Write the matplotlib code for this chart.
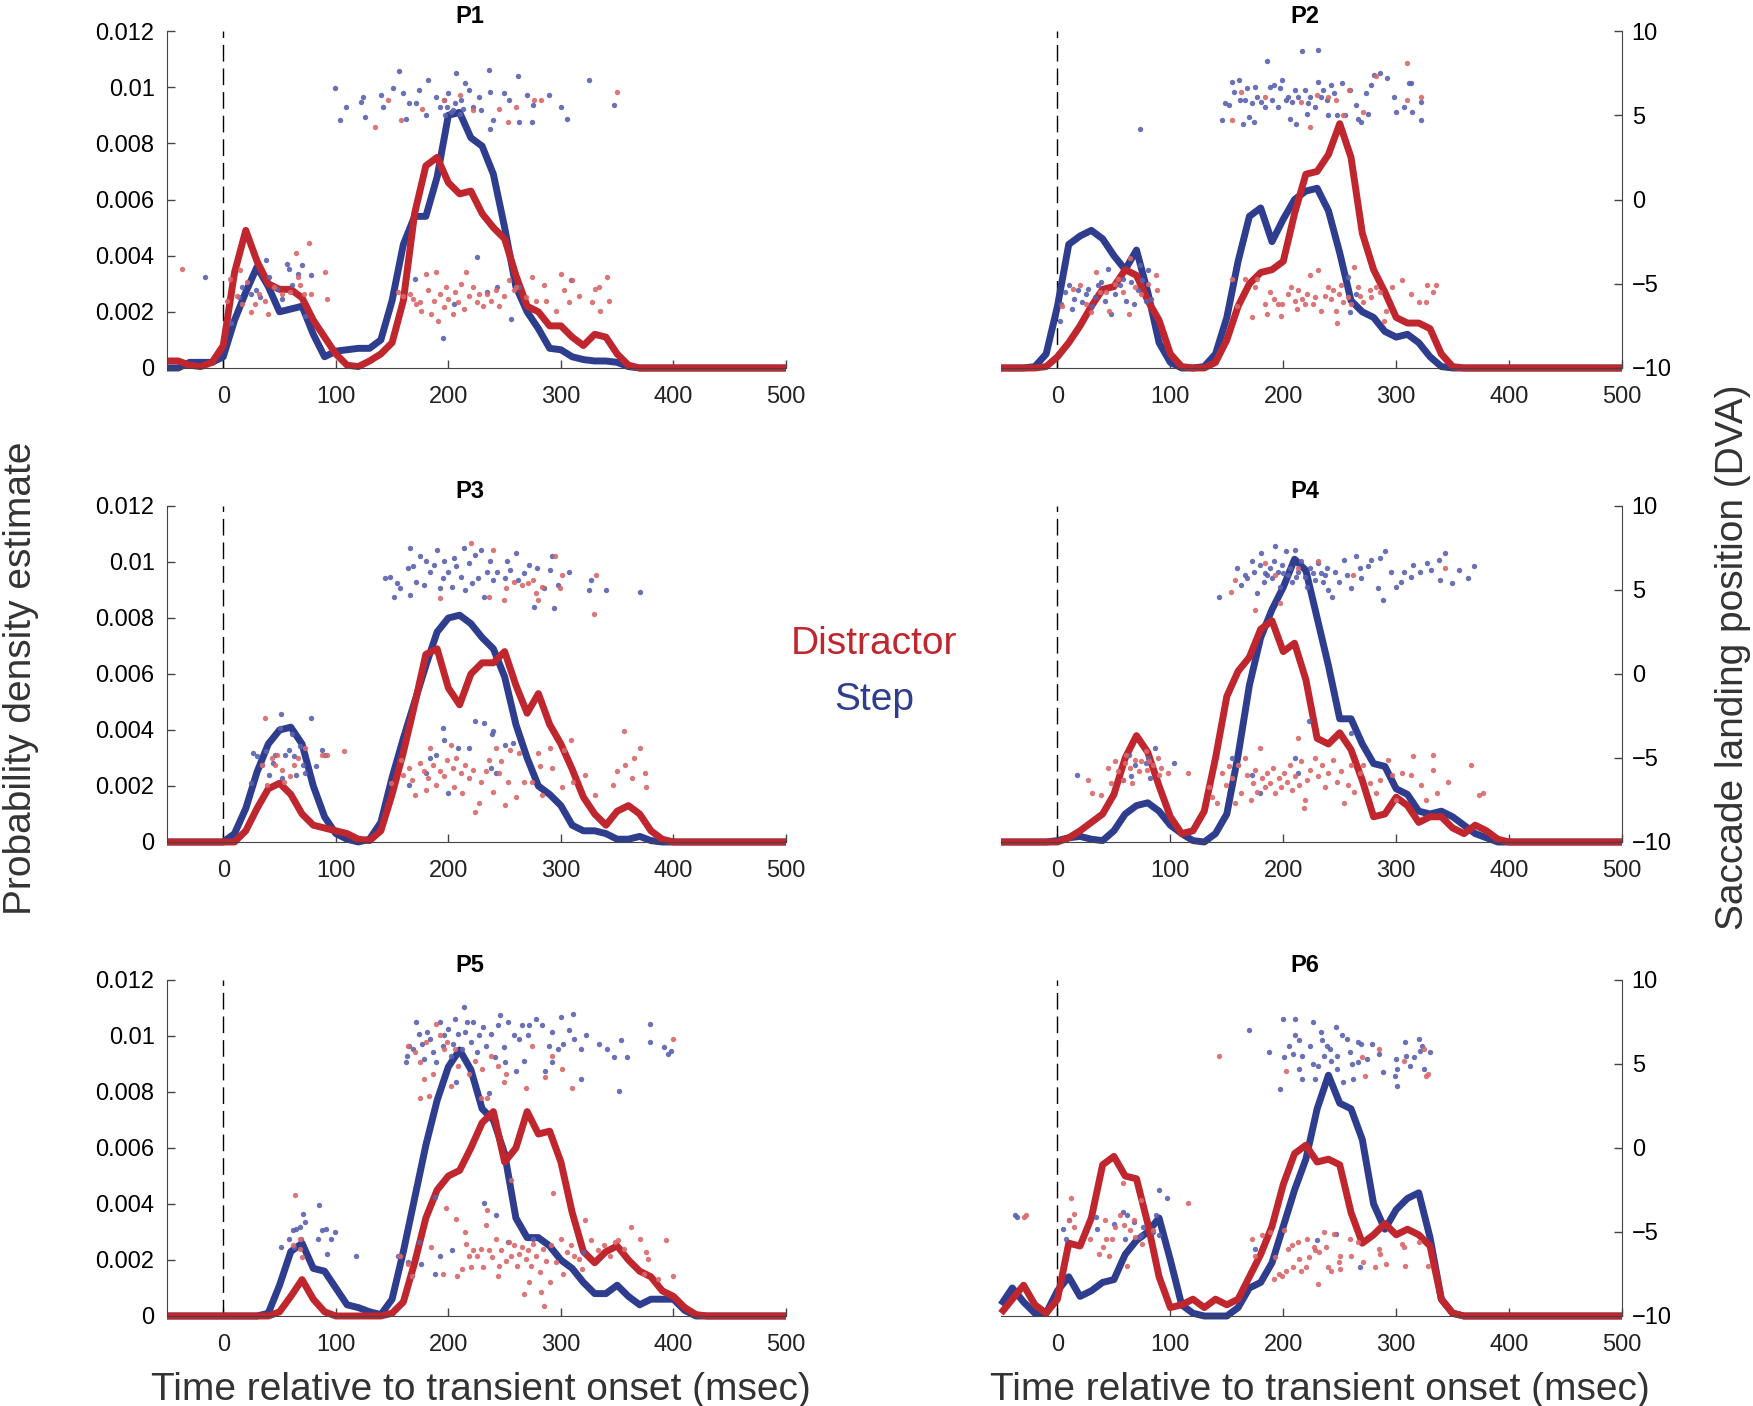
import numpy as np
import matplotlib
matplotlib.use("Agg")
import matplotlib.pyplot as plt

plt.rcParams["font.family"] = ["Liberation Sans", "DejaVu Sans"]

# time grid of the density estimates (msec)
t = np.arange(-50, 501, 10)

# density estimates, units of 1e-3, read every 10 ms from -50 to 500
p1_step = [0, 0, 0.2, 0.2, 0.2, 0.4, 1.7, 2.7, 3.6, 2.9, 2.0, 2.1, 2.2, 1.2, 0.4, 0.6, 0.65, 0.7, 0.7, 1.0,
           2.4, 4.4, 5.4, 5.4, 6.8, 9.0, 9.1, 8.2, 7.9, 6.9, 5.0, 2.9, 2.0, 1.4, 0.7, 0.65, 0.4, 0.3, 0.25, 0.25,
           0.2, 0.05] + [0] * 14
p1_dist = [0.25, 0.25, 0.1, 0.05, 0.2, 0.8, 3.4, 4.9, 3.8, 3.0, 2.8, 2.8, 2.5, 1.7, 1.1, 0.5, 0.1, 0.05, 0.25, 0.5,
           0.9, 2.4, 5.5, 7.2, 7.5, 6.6, 6.2, 6.3, 5.5, 5.0, 4.6, 3.3, 2.2, 2.0, 1.5, 1.5, 1.1, 0.8, 1.2, 1.1,
           0.5, 0.1] + [0] * 14
p2_step = [0, 0, 0, 0.05, 0.5, 2.2, 4.4, 4.7, 4.9, 4.6, 4.0, 3.5, 4.2, 2.7, 0.9, 0.2, 0, 0, 0.05, 0.5,
           1.8, 3.8, 5.4, 5.7, 4.5, 5.3, 6.0, 6.3, 6.4, 5.6, 4.1, 2.4, 2.0, 1.8, 1.3, 1.1, 1.2, 0.9, 0.4, 0.05] + [0] * 16
p2_dist = [0, 0, 0, 0, 0.05, 0.4, 0.9, 1.5, 2.2, 2.8, 2.9, 3.5, 3.3, 2.4, 1.7, 0.5, 0.05, 0, 0, 0.2,
           1.0, 2.2, 3.0, 3.4, 3.5, 3.8, 5.5, 6.9, 7.0, 7.6, 8.7, 7.5, 4.8, 3.5, 2.7, 1.8, 1.6, 1.6, 1.4, 0.5,
           0.05] + [0] * 15
p3_step = [0, 0, 0, 0, 0, 0, 0.3, 1.2, 2.5, 3.5, 4.0, 4.1, 3.5, 2.0, 0.9, 0.3, 0.1, 0, 0.1, 0.7,
           2.3, 3.7, 5.0, 6.3, 7.5, 8.0, 8.1, 7.8, 7.3, 6.9, 5.9, 4.2, 3.0, 2.0, 1.7, 1.3, 0.6, 0.4, 0.4, 0.3,
           0.1, 0.1, 0.2, 0.05] + [0] * 12
p3_dist = [0, 0, 0, 0, 0, 0, 0, 0.4, 1.2, 1.9, 2.1, 1.7, 1.0, 0.6, 0.5, 0.4, 0.3, 0.1, 0.05, 0.4,
           1.7, 3.2, 4.9, 6.7, 6.9, 5.5, 4.9, 6.0, 6.4, 6.4, 6.8, 5.6, 4.6, 5.3, 4.2, 3.5, 2.6, 1.6, 1.0, 0.6,
           1.1, 1.3, 1.0, 0.4, 0.1] + [0] * 11
p4_step = [0, 0, 0, 0, 0, 0.05, 0.15, 0.2, 0.1, 0.05, 0.4, 1.0, 1.3, 1.4, 1.1, 0.6, 0.3, 0.05, 0, 0.3,
           1.0, 3.1, 5.6, 7.3, 8.3, 9.1, 10.1, 9.7, 8.0, 6.3, 4.4, 4.4, 3.5, 2.8, 2.7, 1.9, 1.7, 1.1, 1.0, 1.1,
           0.9, 0.6, 0.3, 0.15, 0] + [0] * 11
p4_dist = [0, 0, 0, 0, 0, 0, 0.15, 0.4, 0.7, 1.0, 1.7, 3.0, 3.8, 3.2, 2.0, 0.9, 0.3, 0.4, 1.1, 3.0,
           5.2, 6.1, 6.6, 7.6, 7.9, 6.8, 7.1, 5.8, 3.7, 3.5, 3.9, 3.3, 2.2, 0.9, 1.0, 1.6, 1.3, 0.7, 0.9, 0.9,
           0.5, 0.3, 0.6, 0.4, 0.1] + [0] * 11
p5_step = [0, 0, 0, 0, 0, 0, 0, 0, 0, 0.1, 1.1, 2.3, 2.6, 1.7, 1.6, 1.0, 0.4, 0.3, 0.15, 0.05,
           0.6, 2.3, 4.2, 6.1, 7.7, 8.9, 9.5, 8.8, 7.4, 7.0, 5.8, 3.5, 2.8, 2.8, 2.5, 2.0, 1.7, 1.2, 0.8, 0.8,
           1.1, 0.7, 0.4, 0.6, 0.6, 0.6, 0.2, 0] + [0] * 8
p5_dist = [0, 0, 0, 0, 0, 0, 0, 0, 0, 0, 0.15, 0.7, 1.3, 0.6, 0.15, 0, 0, 0, 0, 0,
           0.1, 0.5, 1.9, 3.5, 4.5, 5.0, 5.2, 6.0, 6.9, 7.3, 5.5, 6.0, 7.3, 6.5, 6.6, 5.5, 3.7, 2.3, 1.9, 2.3,
           2.5, 2.0, 1.6, 1.4, 0.9, 0.7, 0.3, 0.05] + [0] * 8
p6_step = [0.4, 1.0, 0.5, 0.1, 0.1, 0.9, 1.4, 0.7, 0.9, 1.2, 1.3, 2.2, 2.7, 3.0, 3.5, 2.0, 0.4, 0.1, 0, 0,
           0, 0.3, 1.0, 1.2, 1.9, 3.2, 4.5, 5.6, 7.4, 8.6, 7.6, 7.4, 6.3, 4.0, 3.1, 3.8, 4.2, 4.4, 2.8, 0.6,
           0.1] + [0] * 15
p6_dist = [0.1, 0.6, 1.1, 0.4, 0.1, 0.6, 2.6, 2.5, 3.5, 5.4, 5.7, 5.0, 4.9, 3.3, 1.4, 0.3, 0.4, 0.6, 0.3, 0.6,
           0.4, 0.6, 1.4, 2.2, 3.2, 4.7, 5.8, 6.1, 5.5, 5.6, 5.4, 3.7, 2.6, 2.9, 3.3, 2.9, 3.1, 2.9, 2.5, 0.6,
           0.1] + [0] * 15

# saccade landing positions: (time msec, position DVA)
p1_step_pts = [(99, 6.6), (104, 4.7), (109, 5.5), (122, 5.8), (124, 6.1), (126, 4.9), (140, 6.2), (142, 5.5),
               (151, 6.6), (156, 7.6), (160, 6.3), (162, 4.8), (165, 5.7), (171, 5.7), (174, 6.5), (182, 7.1),
               (180, 5.0), (189, 6.1), (193, 5.5), (196, 5.9), (200, 6.3), (204, 5.3), (207, 7.5), (211, 5.9),
               (215, 6.9), (218, 6.5), (222, 5.5), (227, 6.1), (229, 5.3), (236, 7.7), (237, 6.4), (240, 4.7),
               (237, 4.2), (249, 6.3), (254, 5.9), (262, 7.3), (263, 4.6), (270, 6.2), (274, 4.6), (275, 5.6),
               (289, 6.2), (300, 5.5), (305, 4.8), (325, 7.1), (347, 5.6), (197, 5.0), (202, 5.2), (206, 5.7),
               (210, 5.1), (213, 5.4), (199, 5.5),
               (170, -4.7), (195, -8.2), (225, -3.4), (243, -5.2), (256, -7.1), (263, -5.2), (309, -4.8),
               (205, -6.2), (234, -5.5),
               (-16, -4.6), (7, -7.3), (14, -5.8), (17, -5.2), (25, -5.6), (29, -5.4), (33, -5.8), (38, -3.6),
               (41, -4.6), (48, -5.3), (52, -5.9), (57, -3.8), (58, -4.1), (61, -5.1), (66, -4.4), (70, -3.9),
               (73, -6.9), (78, -4.5)]
p1_dist_pts = [(135, 4.3), (146, 5.9), (158, 4.7), (177, 5.4), (196, 5.9), (210, 6.2), (222, 5.3), (245, 5.4),
               (253, 4.6), (260, 5.5), (276, 5.9), (282, 5.9), (350, 6.4),
               (155, -5.5), (160, -5.7), (166, -5.6), (169, -5.9), (171, -6.2), (175, -6.1), (176, -6.6),
               (180, -4.4), (182, -5.4), (185, -6.8), (187, -6.0), (189, -4.3), (191, -7.2), (193, -5.6),
               (196, -6.4), (198, -5.2), (200, -5.9), (204, -6.8), (206, -5.5), (209, -6.1), (211, -5.0),
               (214, -6.5), (216, -4.3), (218, -5.7), (222, -5.2), (225, -6.1), (227, -5.6), (231, -6.3),
               (234, -5.6), (238, -6.0), (242, -5.4), (245, -6.3), (249, -5.7), (254, -4.8), (258, -5.4),
               (260, -5.2), (269, -5.8), (274, -4.6), (278, -6.0), (285, -5.1), (287, -6.0), (296, -6.6),
               (300, -4.4), (303, -5.4), (307, -6.1), (310, -4.8), (316, -5.7), (328, -6.1), (330, -5.3),
               (334, -5.2), (335, -6.6), (341, -4.6), (343, -6.0),
               (-37, -4.1), (3, -6.0), (6, -4.7), (12, -5.7), (15, -4.2), (17, -6.2), (21, -4.9), (25, -6.7),
               (28, -6.2), (32, -5.6), (37, -6.0), (40, -6.8), (45, -5.2), (52, -5.6), (59, -5.5), (65, -3.2),
               (66, -4.6), (68, -5.1), (72, -5.6), (76, -2.6), (78, -5.6), (90, -4.3), (92, -5.9)]

p2_step_pts = [(146, 4.7), (148, 5.7), (152, 5.6), (155, 7.0), (156, 6.4), (161, 7.1), (162, 5.9), (164, 4.5),
               (166, 5.9), (168, 6.6), (170, 4.9), (172, 5.7), (174, 4.6), (175, 6.7), (177, 6.1), (180, 5.8),
               (184, 5.5), (186, 8.2), (188, 6.7), (190, 5.9), (192, 6.8), (195, 5.5), (197, 6.6), (199, 7.1),
               (202, 5.9), (204, 6.1), (206, 4.8), (208, 5.8), (210, 6.5), (211, 4.5), (213, 6.1), (217, 8.8),
               (219, 6.5), (221, 5.1), (222, 5.7), (224, 6.1), (228, 5.5), (231, 8.9), (231, 7.0), (233, 6.1),
               (235, 6.5), (239, 5.9), (240, 5.0), (242, 6.8), (245, 6.3), (248, 5.0), (252, 6.9), (255, 5.0),
               (259, 6.5), (264, 5.6), (266, 4.8), (269, 4.6), (273, 6.3), (275, 5.1), (278, 6.8), (280, 7.4),
               (286, 7.5), (292, 7.2), (298, 6.1), (300, 5.2), (307, 5.5), (311, 6.9), (313, 6.9), (314, 5.2),
               (322, 5.8), (322, 4.7), (73, 4.2),
               (257, -4.6), (259, -6.7), (264, -5.6),
               (2, -7.2), (3, -6.2), (7, -5.5), (10, -5.1), (13, -6.5), (15, -5.9), (18, -5.4), (22, -6.1),
               (25, -5.6), (27, -5.3), (31, -6.3), (33, -5.8), (36, -5.1), (39, -4.9), (42, -6.0), (45, -4.1),
               (47, -6.8), (51, -5.6), (55, -5.1), (58, -4.7), (61, -6.0), (65, -4.9), (68, -6.2), (71, -5.4),
               (73, -3.9), (75, -4.8), (78, -6.0), (80, -4.2), (83, -5.9)]
p2_dist_pts = [(155, 4.7), (163, 6.4), (184, 6.1), (216, 5.8), (224, 4.3), (230, 6.2), (240, 6.1), (247, 5.9),
               (253, 5.0), (258, 6.5), (271, 5.2), (282, 7.3), (310, 8.1), (310, 5.9), (322, 6.1),
               (155, -4.7), (159, -6.3), (166, -4.7), (172, -7.0), (175, -5.2), (177, -4.7), (184, -6.2),
               (186, -6.8), (188, -5.5), (192, -5.9), (195, -6.2), (198, -6.9), (199, -6.2), (204, -5.6),
               (207, -5.2), (210, -6.0), (212, -6.5), (213, -5.4), (217, -5.9), (219, -6.2), (221, -5.6),
               (224, -4.5), (226, -6.2), (228, -5.8), (231, -4.2), (233, -6.6), (237, -5.7), (240, -5.2),
               (242, -5.9), (244, -5.4), (247, -6.6), (248, -7.3), (249, -5.6), (251, -5.1), (253, -6.1),
               (257, -5.8), (260, -6.2), (263, -4.0), (266, -5.2), (268, -5.7), (271, -6.1), (277, -5.4),
               (278, -5.8), (282, -5.2), (286, -5.5), (289, -7.2), (291, -6.6), (296, -5.2), (305, -4.8),
               (313, -5.6), (320, -6.1), (326, -6.1), (327, -5.1), (333, -5.5), (335, -5.1),
               (4, -6.3), (14, -5.3), (20, -5.1), (25, -6.2), (30, -6.7), (34, -4.3), (38, -5.5), (43, -5.5),
               (46, -6.6), (51, -5.0), (54, -4.7), (58, -5.5), (63, -6.8), (64, -3.5), (69, -5.2), (74, -5.6),
               (80, -5.0), (87, -4.5), (88, -5.4)]

p3_step_pts = [(144, 5.7), (148, 5.8), (152, 4.6), (154, 5.4), (157, 5.1), (164, 6.3), (166, 7.5), (166, 4.7),
               (169, 6.4), (171, 5.5), (175, 7.0), (178, 5.3), (180, 6.7), (184, 6.1), (187, 6.5), (190, 7.4),
               (193, 5.1), (195, 5.7), (196, 6.7), (200, 6.1), (203, 5.2), (205, 6.9), (207, 6.4), (211, 5.8),
               (214, 7.5), (215, 5.0), (218, 6.6), (221, 5.4), (224, 7.1), (226, 5.7), (229, 7.4), (232, 4.6),
               (234, 6.1), (237, 6.7), (240, 5.6), (243, 6.1), (250, 5.7), (252, 6.7), (255, 6.2), (260, 7.2),
               (262, 5.6), (267, 6.0), (272, 6.5), (276, 4.0), (279, 6.3), (285, 5.1), (290, 6.2), (292, 7.0),
               (294, 3.9), (297, 5.3), (307, 6.1), (325, 5.0), (327, 5.6), (340, 5.0), (370, 4.9),
               (195, -3.2), (196, -3.9), (224, -2.8), (232, -2.9), (240, -3.4), (239, -3.6), (250, -4.2),
               (257, -4.1), (238, -5.6), (242, -5.9), (184, -5.0), (189, -4.8), (200, -7.1), (165, -6.6),
               (180, -5.9), (209, -4.4), (218, -4.4),
               (25, -6.5), (26, -4.7), (30, -4.9), (34, -5.4), (38, -4.6), (41, -6.0), (44, -5.3), (46, -4.8),
               (50, -3.2), (51, -2.4), (52, -6.2), (55, -4.8), (58, -4.5), (61, -3.6), (63, -4.9), (65, -6.0),
               (68, -4.3), (71, -5.4), (73, -5.9), (78, -2.6), (82, -5.5), (88, -4.5), (90, -4.8)]
p3_dist_pts = [(220, 7.8), (240, 7.4), (193, 4.5), (236, 4.6), (249, 4.4), (251, 5.1), (258, 5.5), (265, 5.3),
               (271, 5.4), (275, 5.6), (278, 4.8), (280, 4.4), (283, 5.2), (295, 7.0), (299, 5.1), (301, 5.9),
               (329, 3.6), (331, 5.9),
               (149, -6.5), (158, -5.1), (160, -6.0), (165, -5.6), (168, -6.3), (170, -7.2), (175, -5.3),
               (178, -5.8), (180, -6.9), (182, -6.2), (184, -4.4), (186, -5.4), (189, -6.6), (193, -5.8),
               (196, -6.1), (199, -5.1), (202, -4.2), (204, -5.6), (205, -6.7), (207, -5.0), (211, -5.9),
               (212, -7.1), (215, -5.4), (218, -6.2), (222, -5.7), (224, -8.2), (227, -7.7), (229, -6.4),
               (233, -5.8), (236, -5.1), (240, -7.0), (242, -4.4), (245, -5.9), (247, -5.2), (250, -7.8),
               (253, -6.4), (255, -4.5), (260, -7.3), (263, -4.7), (267, -6.4), (274, -6.4), (280, -4.7),
               (281, -5.5), (283, -7.2), (290, -4.4), (292, -5.6), (301, -6.7), (303, -4.5), (309, -3.9),
               (311, -6.4), (321, -6.0), (330, -7.2), (346, -6.6), (350, -5.8), (356, -3.4), (357, -5.4),
               (363, -6.2), (365, -5.0), (370, -4.4), (375, -5.9), (376, -6.7),
               (37, -2.6), (34, -5.4), (39, -6.6), (43, -5.0), (46, -5.4), (48, -4.8), (52, -5.7), (54, -6.4),
               (59, -6.1), (63, -5.4), (66, -5.0), (73, -4.4), (88, -4.8), (92, -4.8), (107, -4.6)]

p4_step_pts = [(143, 4.6), (159, 6.3), (163, 5.3), (166, 5.9), (168, 5.7), (172, 6.7), (174, 6.1), (177, 4.8),
               (179, 6.5), (180, 7.2), (183, 5.5), (184, 6.0), (188, 6.3), (190, 5.7), (192, 6.7), (193, 7.6),
               (195, 6.1), (197, 5.2), (199, 6.5), (202, 7.3), (204, 5.9), (206, 6.3), (208, 5.5), (210, 7.4),
               (213, 6.1), (216, 6.7), (219, 5.8), (221, 5.2), (224, 6.3), (228, 5.6), (231, 6.6), (233, 6.0),
               (235, 5.5), (239, 6.3), (240, 5.0), (243, 4.6), (246, 6.1), (249, 5.5), (254, 6.8), (256, 5.9),
               (260, 5.1), (264, 7.0), (268, 6.3), (269, 5.7), (275, 6.4), (278, 6.8), (284, 5.1), (286, 6.9),
               (288, 4.4), (290, 7.3), (295, 6.1), (300, 5.2), (304, 5.5), (307, 6.1), (313, 5.8), (315, 6.5),
               (321, 6.1), (327, 6.6), (331, 6.2), (338, 6.8), (339, 5.6), (343, 7.2), (349, 5.4), (356, 6.2),
               (364, 5.7), (369, 6.4), (186, 5.9), (200, 6.0), (211, 5.8), (226, 6.0), (237, 5.9),
               (155, -5.0), (160, -5.4), (172, -6.0), (179, -7.1), (210, -5.0), (213, -5.9), (223, -2.8),
               (260, -3.5),
               (17, -6.0), (58, -6.3), (63, -4.8), (65, -6.1), (69, -5.4), (78, -5.3), (82, -6.2), (86, -4.4),
               (103, -5.3), (80, -5.0)]
p4_dist_pts = [(154, 4.9), (157, 5.6), (175, 3.8), (184, 6.6), (197, 4.2), (231, 6.7), (262, 5.9), (343, 6.3),
               (213, 6.3), (193, 5.9),
               (134, -6.7), (137, -7.3), (141, -7.7), (146, -5.9), (149, -6.6), (152, -5.5), (155, -6.2),
               (157, -7.7), (160, -5.4), (163, -7.1), (166, -5.0), (168, -6.0), (171, -7.5), (173, -6.5),
               (175, -5.7), (177, -7.0), (179, -4.4), (181, -6.2), (184, -6.7), (186, -5.9), (188, -6.5),
               (191, -5.6), (193, -7.1), (196, -6.2), (198, -6.7), (201, -5.9), (203, -6.4), (206, -5.4),
               (208, -6.9), (210, -6.1), (213, -3.8), (214, -6.6), (216, -5.2), (219, -7.5), (218, -8.0),
               (221, -6.3), (224, -5.7), (228, -5.0), (231, -6.1), (234, -5.4), (237, -6.7), (240, -5.9),
               (244, -5.1), (248, -6.4), (251, -5.8), (254, -7.7), (257, -6.6), (260, -5.4), (263, -7.0),
               (268, -5.9), (271, -5.4), (277, -6.5), (282, -7.1), (286, -6.3), (293, -5.1), (296, -6.0),
               (300, -7.5), (305, -5.9), (313, -6.0), (315, -4.9), (322, -6.6), (326, -7.5), (333, -4.8),
               (333, -5.7), (336, -7.1), (346, -6.4), (366, -5.4), (373, -7.2), (377, -7.1),
               (27, -6.3), (31, -7.1), (39, -7.2), (45, -5.6), (47, -6.5), (51, -5.2), (54, -5.8), (58, -6.3),
               (60, -5.3), (61, -4.8), (64, -5.6), (66, -6.5), (69, -5.1), (72, -5.8), (74, -5.2), (78, -4.6),
               (79, -5.7), (81, -5.2), (85, -5.4), (89, -5.0), (90, -6.0), (92, -5.6), (98, -5.9), (116, -5.9)]

p5_step_pts = [(162, 5.1), (163, 5.5), (165, 6.1), (169, 5.9), (171, 7.5), (174, 6.8), (177, 6.2), (178, 5.3),
               (181, 6.9), (184, 6.5), (186, 5.7), (189, 5.1), (193, 7.5), (195, 6.1), (196, 6.7), (200, 7.1),
               (202, 5.5), (204, 6.2), (206, 7.7), (207, 3.9), (209, 6.8), (212, 5.9), (214, 8.4), (215, 6.9),
               (217, 7.5), (220, 6.3), (222, 7.5), (225, 5.7), (227, 6.7), (231, 7.2), (233, 6.1), (236, 3.3),
               (238, 6.8), (241, 5.4), (244, 7.3), (246, 7.9), (249, 6.0), (250, 5.1), (253, 7.5), (258, 6.7),
               (260, 4.6), (263, 6.5), (265, 7.3), (267, 5.2), (271, 6.7), (272, 7.3), (278, 7.7), (283, 7.3),
               (286, 4.6), (289, 6.1), (292, 6.9), (292, 5.1), (297, 5.9), (300, 7.8), (302, 6.2), (307, 7.0),
               (311, 8.0), (312, 6.5), (318, 4.1), (318, 5.9), (322, 6.7), (334, 6.2), (341, 5.9), (347, 5.4),
               (352, 3.4), (353, 6.4), (359, 5.4), (379, 7.4), (379, 6.3), (392, 6.0), (395, 5.6), (398, 5.8),
               (155, -6.4), (164, -6.8), (168, -7.6), (174, -5.6), (176, -6.9), (188, -2.9), (193, -6.4),
               (188, -7.5), (203, -6.1), (232, -3.3), (242, -4.0), (253, -5.6), (275, -5.4), (320, -6.2),
               (51, -5.9), (58, -5.4), (62, -4.9), (63, -5.9), (65, -4.8), (68, -4.7), (69, -5.4), (71, -3.9),
               (73, -4.4), (84, -5.4), (85, -3.4), (88, -4.9), (91, -4.8), (92, -6.3), (96, -5.4), (99, -5.0),
               (118, -6.4)]
p5_dist_pts = [(164, 6.1), (170, 5.7), (175, 5.1), (178, 4.1), (175, 3.0), (180, 6.3), (183, 3.1), (186, 4.4),
               (189, 7.4), (193, 6.7), (196, 5.9), (199, 6.3), (202, 3.7), (206, 5.9), (209, 4.9), (218, 4.4),
               (224, 5.2), (229, 3.0), (230, 4.7), (234, 3.0), (238, 5.5), (244, 4.9), (249, 3.9), (251, 4.4),
               (269, 3.6), (274, 6.1), (286, 4.2), (292, 5.5), (301, 4.7), (310, 3.6), (400, 6.5),
               (157, -6.4), (164, -6.9), (168, -7.6), (185, -5.9), (195, -7.5), (198, -3.6), (207, -4.2),
               (208, -7.6), (212, -7.2), (215, -5.0), (216, -5.7), (218, -6.4), (220, -7.1), (222, -6.1),
               (225, -6.4), (229, -6.0), (231, -7.1), (233, -4.6), (234, -3.7), (236, -6.1), (239, -6.5),
               (242, -5.4), (244, -7.6), (245, -7.0), (247, -6.1), (251, -6.7), (254, -5.6), (256, -6.4),
               (258, -5.8), (261, -7.0), (263, -6.3), (265, -5.9), (267, -8.7), (269, -6.6), (271, -6.1),
               (272, -8.0), (273, -7.0), (275, -5.7), (278, -6.4), (281, -7.4), (282, -8.6), (284, -6.0),
               (285, -9.4), (287, -6.7), (290, -8.0), (291, -5.8), (293, -2.7), (296, -6.8), (300, -5.4),
               (302, -7.5), (305, -6.2), (309, -5.8), (312, -6.4), (316, -6.6), (321, -4.3), (327, -5.5),
               (333, -6.1), (338, -5.8), (344, -6.4), (348, -5.6), (351, -5.5), (356, -6.0), (362, -4.7),
               (370, -5.4), (374, -7.5), (376, -6.2), (377, -6.6), (386, -7.8), (393, -5.5), (400, -7.6),
               (256, -1.9), (319, -7.2),
               (62, -5.8), (64, -2.8), (68, -5.4), (68, -6.0), (70, -6.5)]

p6_step_pts = [(170, 7.0), (187, 5.7), (197, 3.5), (200, 7.7), (201, 5.4), (205, 6.1), (210, 7.7), (210, 6.7),
               (209, 5.6), (214, 6.4), (214, 4.7), (217, 5.5), (217, 4.1), (226, 7.5), (224, 6.1), (226, 5.0),
               (228, 4.1), (231, 4.9), (233, 6.9), (234, 6.4), (236, 5.5), (239, 6.1), (241, 5.9), (242, 5.2),
               (247, 7.2), (248, 5.5), (248, 4.7), (252, 6.7), (253, 3.9), (256, 6.5), (259, 5.7), (261, 5.0),
               (262, 4.1), (266, 6.3), (266, 5.1), (269, 6.2), (274, 5.3), (279, 6.2), (285, 5.6), (288, 4.5),
               (299, 4.3), (300, 5.3), (301, 4.7), (301, 3.7), (308, 6.3), (309, 5.5), (312, 4.9), (316, 5.4),
               (320, 6.5), (321, 5.8), (323, 6.1), (325, 4.7), (330, 5.7),
               (175, -6.0), (230, -5.5), (247, -5.1), (268, -7.1),
               (-38, -4.0), (-36, -4.1), (5, -4.8), (8, -5.4), (10, -4.3), (34, -4.1), (35, -4.8), (50, -4.5),
               (58, -3.8), (60, -5.4), (62, -4.0), (68, -4.4), (72, -5.3), (74, -5.2), (76, -4.7), (90, -2.5),
               (85, -5.0), (87, -4.0), (90, -5.2), (97, -3.0)]
p6_dist_pts = [(143, 5.5), (202, 4.6), (270, 5.4), (272, 4.3), (285, 5.9), (307, 5.2), (325, 5.9), (326, 4.3),
               (328, 4.4),
               (172, -5.4), (175, -6.4), (181, -5.2), (188, -5.0), (193, -6.5), (196, -7.5), (201, -4.9),
               (202, -7.3), (204, -6.0), (208, -5.8), (209, -7.1), (213, -5.6), (214, -6.6), (216, -7.3),
               (220, -7.1), (221, -5.4), (223, -6.5), (227, -5.9), (228, -6.1), (231, -8.1), (232, -6.2),
               (236, -5.0), (238, -5.9), (240, -7.1), (242, -7.3), (245, -5.1), (249, -6.8), (250, -6.4),
               (250, -7.2), (259, -5.4), (260, -6.4), (266, -5.6), (271, -6.8), (281, -7.1), (285, -6.0),
               (286, -6.3), (291, -6.9), (305, -5.7), (307, -5.9), (308, -7.0), (320, -5.6), (328, -7.0),
               (192, -7.8), (199, -7.6),
               (-30, -4.1), (-28, -4.0), (12, -3.0), (15, -3.9), (10, -4.3), (15, -4.7), (29, -5.4), (37, -6.3),
               (40, -5.9), (42, -4.3), (43, -5.4), (46, -6.4), (48, -5.4), (51, -4.7), (55, -4.0), (58, -2.1),
               (59, -4.6), (62, -7.0), (64, -4.9), (68, -4.3), (69, -5.3), (74, -3.1), (75, -5.7), (85, -4.9),
               (116, -3.3)]

titles = ["P1", "P2", "P3", "P4", "P5", "P6"]
step_curves = [p1_step, p2_step, p3_step, p4_step, p5_step, p6_step]
dist_curves = [p1_dist, p2_dist, p3_dist, p4_dist, p5_dist, p6_dist]
step_points = [p1_step_pts, p2_step_pts, p3_step_pts, p4_step_pts, p5_step_pts, p6_step_pts]
dist_points = [p1_dist_pts, p2_dist_pts, p3_dist_pts, p4_dist_pts, p5_dist_pts, p6_dist_pts]

dens_ticks = [0, 0.002, 0.004, 0.006, 0.008, 0.01, 0.012]
dens_labels = ["0", "0.002", "0.004", "0.006", "0.008", "0.01", "0.012"]
pos_ticks = [-10, -5, 0, 5, 10]
time_ticks = [0, 100, 200, 300, 400, 500]

red = "#c0262e"
blue = "#2f3d8f"
red_dot = "#d9686b"
blue_dot = "#5a62ae"
grey = "#444444"

W, H = 1753, 1406
fig = plt.figure(figsize=(W / 100, H / 100), dpi=100)

col_x = [(167, 786), (1001, 1622)]
row_y = [(31, 368), (506, 842), (980, 1316)]

for i in range(6):
    r, c = i // 2, i % 2
    x0, x1 = col_x[c]
    y0, y1 = row_y[r]
    ax = fig.add_axes([x0 / W, 1 - y1 / H, (x1 - x0) / W, (y1 - y0) / H])
    ax2 = ax.twinx()

    ax.axvline(0, color="black", lw=1, linestyle=(0, (12, 5)))
    ax.plot(t, np.array(step_curves[i]) * 1e-3, color=blue, lw=5, clip_on=False,
            solid_joinstyle="round", solid_capstyle="butt")
    ax.plot(t, np.array(dist_curves[i]) * 1e-3, color=red, lw=5, clip_on=False,
            solid_joinstyle="round", solid_capstyle="butt")

    sp = np.array(step_points[i])
    dp = np.array(dist_points[i])
    ax2.scatter(sp[:, 0], sp[:, 1], s=15, color=blue_dot, alpha=0.9, linewidths=0)
    ax2.scatter(dp[:, 0], dp[:, 1], s=15, color=red_dot, alpha=0.9, linewidths=0)

    ax.set_xlim(-50, 500)
    ax.set_ylim(0, 0.012)
    ax2.set_ylim(-10, 10)
    ax.set_xticks(time_ticks)
    ax.tick_params(axis="x", direction="in", length=6, width=1, pad=13,
                   labelsize=17, color=grey, labelcolor="#222222")

    for s in ["top", "right", "left", "bottom"]:
        ax2.spines[s].set_visible(False)
    ax.spines["top"].set_visible(False)
    ax.spines["right"].set_visible(False)
    ax.spines["bottom"].set_color(grey)

    if c == 0:
        ax.set_yticks(dens_ticks)
        ax.set_yticklabels(dens_labels)
        ax.tick_params(axis="y", direction="in", length=6, width=1, pad=9,
                       labelsize=17, color=grey, labelcolor="black")
        ax.spines["left"].set_color(grey)
        ax2.set_yticks([])
    else:
        ax.spines["left"].set_visible(False)
        ax.set_yticks([])
        ax2.spines["right"].set_visible(True)
        ax2.spines["right"].set_color(grey)
        ax2.set_yticks(pos_ticks)
        ax2.tick_params(axis="y", direction="in", length=6, width=1, pad=7,
                        labelsize=17, color=grey, labelcolor="black")

    ax.set_title(titles[i], fontsize=17, fontweight="bold", pad=6, x=0.49)

fig.text(21 / W, 1 - 678 / H, "Probability density estimate", rotation=90,
         ha="center", va="center", fontsize=28, color="#333333")
fig.text(1733 / W, 1 - 657 / H, "Saccade landing position (DVA)", rotation=90,
         ha="center", va="center", fontsize=28, color="#333333")
fig.text(481 / W, 1 - 1390 / H, "Time relative to transient onset (msec)",
         ha="center", va="center", fontsize=28, color="#333333")
fig.text(1320 / W, 1 - 1390 / H, "Time relative to transient onset (msec)",
         ha="center", va="center", fontsize=28, color="#333333")
fig.text(874 / W, 1 - 654 / H, "Distractor", ha="center", va="baseline",
         fontsize=28, color=red)
fig.text(874 / W, 1 - 710 / H, "Step", ha="center", va="baseline",
         fontsize=28, color=blue)

fig.savefig("out.png", dpi=100)
